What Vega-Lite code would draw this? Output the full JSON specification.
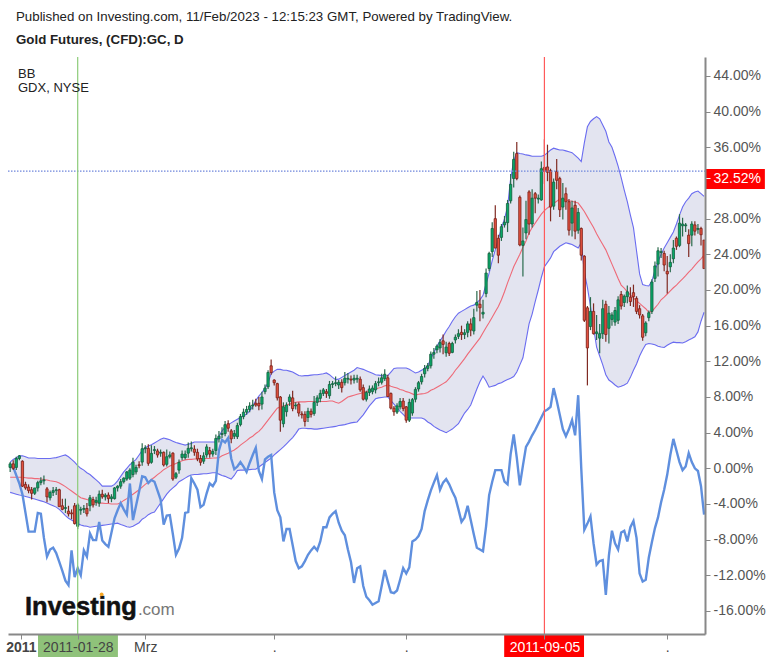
{
"$schema":"https://vega.github.io/schema/vega-lite/v6.json",
"width":697,"height":577,
"autosize":{"type":"none"},
"padding":{"left":8,"top":57,"right":71,"bottom":29},
"background":"#ffffff",
"view":{"stroke":null},
"title":{"text":"Published on Investing.com, 11/Feb/2023 - 12:15:23 GMT, Powered by TradingView.","subtitle":"Gold Futures, (CFD):GC, D","anchor":"start","frame":"group","dx":8,"offset":10,"font":"Liberation Sans","fontSize":13.3,"fontWeight":"normal","color":"#222222","subtitleFont":"Liberation Sans","subtitleFontSize":13.3,"subtitleFontWeight":"bold","subtitleColor":"#222222","subtitlePadding":10},
"data":{"values":[
{"i":1,"o":0.1,"h":0.7,"l":-0.4,"c":0.5,"u":0.7,"m":-1,"b":-2.7,"g":0.15},
{"i":2,"o":0.5,"h":0.9,"l":-0.2,"c":0,"u":1,"m":-1,"b":-2.8,"g":0.15},
{"i":3,"o":0.1,"h":1.3,"l":-0.2,"c":1.1,"u":1.2,"m":-1,"b":-2.9,"g":-0.8},
{"i":4,"o":1.1,"h":1.5,"l":0.9,"c":1.4,"u":1.4,"m":-1,"b":-3,"g":-1.7},
{"i":5,"o":0.8,"h":0.9,"l":-2.1,"c":-2,"u":1.4,"m":-1,"b":-3.05,"g":-2.9},
{"i":6,"o":-1.8,"h":-1.5,"l":-2.4,"c":-2.2,"u":1.3,"m":-1.05,"b":-3.15,"g":-5},
{"i":7,"o":-2.1,"h":-1.8,"l":-2.8,"c":-2.5,"u":1.15,"m":-1.1,"b":-3.25,"g":-7.1},
{"i":8,"o":-2.4,"h":-2.1,"l":-3.5,"c":-2.8,"u":1.15,"m":-1.1,"b":-3.35,"g":-7.1},
{"i":9,"o":-2.8,"h":-2.2,"l":-3,"c":-2.2,"u":1.15,"m":-1.15,"b":-3.45,"g":-7.1},
{"i":10,"o":-2.2,"h":-1.4,"l":-2.6,"c":-1.6,"u":1.1,"m":-1.15,"b":-3.55,"g":-5},
{"i":11,"o":-1.6,"h":-1,"l":-1.9,"c":-1.4,"u":1.1,"m":-1.2,"b":-3.65,"g":-5.1},
{"i":12,"o":-1.4,"h":-0.8,"l":-1.8,"c":-1.3,"u":1.1,"m":-1.25,"b":-3.75,"g":-7.8},
{"i":13,"o":-2.3,"h":-2.1,"l":-3.8,"c":-3.2,"u":1.1,"m":-1.3,"b":-3.9,"g":-9.9},
{"i":14,"o":-3.3,"h":-2.5,"l":-3.6,"c":-2.7,"u":1.1,"m":-1.4,"b":-4.05,"g":-9.1},
{"i":15,"o":-2.7,"h":-2.1,"l":-3.1,"c":-2.5,"u":1.15,"m":-1.45,"b":-4.2,"g":-8.9},
{"i":16,"o":-2.5,"h":-2.1,"l":-3,"c":-2.4,"u":1.2,"m":-1.5,"b":-4.35,"g":-9.5},
{"i":17,"o":-2.4,"h":-2.3,"l":-4.3,"c":-4.3,"u":1.3,"m":-1.65,"b":-4.6,"g":-10.5},
{"i":18,"o":-4.2,"h":-3.4,"l":-4.7,"c":-4.6,"u":1.4,"m":-1.85,"b":-4.95,"g":-11.5},
{"i":19,"o":-4.5,"h":-3.4,"l":-5,"c":-4.4,"u":1.5,"m":-2.05,"b":-5.3,"g":-12.6},
{"i":20,"o":-4.8,"h":-4.2,"l":-5.4,"c":-5.1,"u":1.3,"m":-2.3,"b":-5.6,"g":-13.1},
{"i":21,"o":-5,"h":-4.6,"l":-5.7,"c":-5.1,"u":1,"m":-2.55,"b":-5.8,"g":-9.2},
{"i":22,"o":-4.2,"h":-3.9,"l":-6.3,"c":-6.2,"u":0.7,"m":-2.8,"b":-6,"g":-12.2},
{"i":23,"o":-6.5,"h":-3.9,"l":-6.8,"c":-4.1,"u":0.3,"m":-3.05,"b":-6.2,"g":-11.2},
{"i":24,"o":-4.7,"h":-4.3,"l":-5.2,"c":-4.6,"u":0,"m":-3.3,"b":-6.35,"g":-12},
{"i":25,"o":-4.6,"h":-4.1,"l":-5,"c":-4.5,"u":-0.2,"m":-3.4,"b":-6.45,"g":-9.2},
{"i":26,"o":-4.5,"h":-3.9,"l":-5.4,"c":-5.1,"u":-0.5,"m":-3.5,"b":-6.5,"g":-9.9},
{"i":27,"o":-4.2,"h":-3,"l":-4.8,"c":-3.3,"u":-0.7,"m":-3.6,"b":-6.6,"g":-7.3},
{"i":28,"o":-3.5,"h":-3.2,"l":-4.4,"c":-4.1,"u":-1,"m":-3.7,"b":-6.55,"g":-8.05},
{"i":29,"o":-3.8,"h":-3.2,"l":-4.2,"c":-3.6,"u":-1.3,"m":-3.85,"b":-6.5,"g":-8.05},
{"i":30,"o":-3.9,"h":-2.5,"l":-4.3,"c":-2.9,"u":-1.6,"m":-3.9,"b":-6.45,"g":-6},
{"i":31,"o":-2.9,"h":-2.4,"l":-3.4,"c":-3.2,"u":-2,"m":-3.9,"b":-6.4,"g":-8.1},
{"i":32,"o":-3.2,"h":-2.8,"l":-3.6,"c":-3,"u":-2,"m":-3.95,"b":-6.35,"g":-8.5},
{"i":33,"o":-3,"h":-2.7,"l":-3.9,"c":-3.4,"u":-2,"m":-3.95,"b":-6.3,"g":-8.8},
{"i":34,"o":-3.4,"h":-2.9,"l":-3.8,"c":-3.2,"u":-2,"m":-4,"b":-6.25,"g":-7.2},
{"i":35,"o":-3.4,"h":-2.1,"l":-3.5,"c":-2.2,"u":-1.8,"m":-4,"b":-6.2,"g":-5.6},
{"i":36,"o":-2.2,"h":-1.9,"l":-2.6,"c":-2,"u":-1.4,"m":-4,"b":-6.15,"g":-4.7},
{"i":37,"o":-2,"h":-1.2,"l":-2.3,"c":-1.5,"u":-0.9,"m":-3.85,"b":-6.3,"g":-3.9},
{"i":38,"o":-1.5,"h":-1,"l":-1.7,"c":-1.1,"u":-0.4,"m":-3.6,"b":-6.4,"g":-4.6},
{"i":39,"o":-1.2,"h":-0.3,"l":-1.4,"c":-0.4,"u":0,"m":-3.4,"b":-6.55,"g":-5.2},
{"i":40,"o":-1.1,"h":0,"l":-1.3,"c":-0.2,"u":0.4,"m":-3.15,"b":-6.6,"g":-1.7},
{"i":41,"o":-0.7,"h":1.2,"l":-1,"c":0.7,"u":0.7,"m":-2.9,"b":-6.5,"g":-5.8},
{"i":42,"o":-0.4,"h":0.4,"l":-0.7,"c":0.1,"u":1,"m":-2.65,"b":-6.3,"g":-4.2},
{"i":43,"o":0.4,"h":0.8,"l":0,"c":0.3,"u":1.5,"m":-2.4,"b":-6.1,"g":-2.6},
{"i":44,"o":0.7,"h":2.8,"l":0.3,"c":2.2,"u":2,"m":-2.1,"b":-5.7,"g":-0.9},
{"i":45,"o":2.2,"h":2.6,"l":1.7,"c":2.3,"u":2.3,"m":-1.8,"b":-5.5,"g":-1},
{"i":46,"o":2.24,"h":2.7,"l":0.3,"c":0.56,"u":2.5,"m":-1.55,"b":-5.2,"g":-1.65},
{"i":47,"o":0.67,"h":2.6,"l":0.5,"c":1.68,"u":2.65,"m":-1.25,"b":-5,"g":-1.3},
{"i":48,"o":2,"h":2.5,"l":1.6,"c":2.1,"u":2.85,"m":-1,"b":-4.9,"g":-1.5},
{"i":49,"o":1.95,"h":2.2,"l":1.2,"c":1.5,"u":3.05,"m":-0.7,"b":-4.4,"g":-2.5},
{"i":50,"o":1.7,"h":2.1,"l":1.3,"c":1.8,"u":3.25,"m":-0.45,"b":-3.9,"g":-3.5},
{"i":51,"o":1.8,"h":1.9,"l":0.2,"c":0.37,"u":3.4,"m":-0.15,"b":-3.4,"g":-6.3},
{"i":52,"o":0.45,"h":2.1,"l":0.2,"c":1.3,"u":3.3,"m":0.05,"b":-2.9,"g":-5.3},
{"i":53,"o":1.3,"h":1.9,"l":1.1,"c":1.5,"u":3.2,"m":0.25,"b":-2.5,"g":-5.25},
{"i":54,"o":1.7,"h":1.8,"l":-1.4,"c":-1.2,"u":3.05,"m":0.4,"b":-2.2,"g":-7.4},
{"i":55,"o":-1,"h":-0.4,"l":-1.2,"c":-0.6,"u":2.9,"m":0.55,"b":-1.9,"g":-9.7},
{"i":56,"o":-0.2,"h":1,"l":-0.6,"c":0.67,"u":2.8,"m":0.7,"b":-1.5,"g":-9},
{"i":57,"o":1.2,"h":2,"l":0.9,"c":1.6,"u":2.7,"m":0.85,"b":-1.3,"g":-7.8},
{"i":58,"o":1.2,"h":2,"l":1,"c":1.6,"u":2.6,"m":0.95,"b":-1.1,"g":-5},
{"i":59,"o":1.7,"h":2.9,"l":1.2,"c":2.24,"u":2.7,"m":1,"b":-0.9,"g":-4.9},
{"i":60,"o":2.2,"h":3,"l":1.9,"c":2.3,"u":2.8,"m":1,"b":-0.75,"g":-1.1},
{"i":61,"o":2.15,"h":2.6,"l":1.4,"c":1.8,"u":2.95,"m":1.05,"b":-0.7,"g":-1.7},
{"i":62,"o":1.8,"h":2.2,"l":0.8,"c":1.05,"u":2.95,"m":1.05,"b":-0.7,"g":-2.4},
{"i":63,"o":1.1,"h":1.5,"l":0.3,"c":0.67,"u":2.95,"m":1.1,"b":-0.65,"g":-4.35},
{"i":64,"o":0.8,"h":1.8,"l":0.5,"c":1.4,"u":2.95,"m":1.1,"b":-0.6,"g":-4.1},
{"i":65,"o":1.5,"h":2.7,"l":1.2,"c":2.4,"u":2.95,"m":1.1,"b":-0.6,"g":-2.8},
{"i":66,"o":2,"h":2.4,"l":1.2,"c":1.6,"u":2.95,"m":1.1,"b":-0.55,"g":-1.7},
{"i":67,"o":1.6,"h":2.2,"l":1.3,"c":1.9,"u":2.95,"m":1.15,"b":-0.5,"g":-2},
{"i":68,"o":2,"h":3.8,"l":1.5,"c":3.35,"u":2.95,"m":1.15,"b":-0.5,"g":-1.4},
{"i":69,"o":3.3,"h":4.2,"l":2.9,"c":3.6,"u":3.6,"m":1.2,"b":-0.65,"g":2},
{"i":70,"o":3.8,"h":4.6,"l":3.4,"c":3.9,"u":4.2,"m":1.4,"b":-0.8,"g":3.2},
{"i":71,"o":3.9,"h":5.3,"l":3.6,"c":4.9,"u":4.6,"m":1.55,"b":-0.9,"g":2.9},
{"i":72,"o":5,"h":5.4,"l":4.1,"c":4.5,"u":4.9,"m":1.7,"b":-1.05,"g":3.4},
{"i":73,"o":4.2,"h":4.4,"l":2.8,"c":3.3,"u":5.1,"m":1.9,"b":-1.2,"g":1.1},
{"i":74,"o":3.6,"h":4.3,"l":3.3,"c":3.9,"u":5.3,"m":2.05,"b":-0.8,"g":-0.1},
{"i":75,"o":3.55,"h":5.1,"l":3.3,"c":4.8,"u":5.5,"m":2.3,"b":-0.25,"g":0.2},
{"i":76,"o":4.9,"h":6.1,"l":4.7,"c":5.8,"u":5.7,"m":2.6,"b":-0.2,"g":0.7},
{"i":77,"o":5.8,"h":6.7,"l":5.5,"c":6.3,"u":5.9,"m":2.85,"b":-0.2,"g":0.2},
{"i":78,"o":6.3,"h":7,"l":6,"c":6.6,"u":6.1,"m":3.1,"b":-0.15,"g":-0.4},
{"i":79,"o":6.6,"h":7.4,"l":6.3,"c":7,"u":6.4,"m":3.4,"b":-0.15,"g":0.6},
{"i":80,"o":7,"h":7.7,"l":6.6,"c":7.1,"u":7,"m":3.6,"b":-0.1,"g":1.5},
{"i":81,"o":7.3,"h":7.8,"l":6.9,"c":7.1,"u":7.6,"m":3.9,"b":-0.1,"g":2.3},
{"i":82,"o":7.3,"h":8,"l":6.5,"c":7,"u":8.1,"m":4.15,"b":0.15,"g":-0.3},
{"i":83,"o":7.2,"h":8.6,"l":6.6,"c":8,"u":8.5,"m":4.5,"b":0.4,"g":-1.2},
{"i":84,"o":8.6,"h":9.4,"l":8.3,"c":9,"u":9,"m":4.95,"b":0.65,"g":1},
{"i":85,"o":9.15,"h":11,"l":8.9,"c":10.75,"u":9.6,"m":5.4,"b":0.9,"g":1.3},
{"i":86,"o":11.5,"h":12.2,"l":10.5,"c":10.75,"u":10.6,"m":5.85,"b":1.15,"g":1.5},
{"i":87,"o":9.9,"h":10,"l":9.3,"c":9.6,"u":10.9,"m":6.3,"b":1.5,"g":-2.7},
{"i":88,"o":9.5,"h":9.6,"l":7.6,"c":7.9,"u":11.1,"m":6.75,"b":1.8,"g":-4.7},
{"i":89,"o":8,"h":8.1,"l":4.1,"c":5.4,"u":11.1,"m":6.9,"b":2.1,"g":-5.5},
{"i":90,"o":5,"h":7.4,"l":4.6,"c":6.9,"u":11,"m":7,"b":2.4,"g":-8.2},
{"i":91,"o":6.35,"h":7.4,"l":5.8,"c":7.1,"u":11,"m":7.1,"b":2.75,"g":-6.8},
{"i":92,"o":7.5,"h":8.3,"l":7,"c":8,"u":10.9,"m":7.2,"b":3.1,"g":-6.8},
{"i":93,"o":7.9,"h":8.7,"l":6.4,"c":6.7,"u":10.8,"m":7.3,"b":3.45,"g":-8.6},
{"i":94,"o":7,"h":7.4,"l":6.6,"c":7.1,"u":10.6,"m":7.4,"b":3.9,"g":-10.4},
{"i":95,"o":7.2,"h":7.4,"l":5.8,"c":6.2,"u":10.4,"m":7.45,"b":4.4,"g":-11.2},
{"i":96,"o":6.1,"h":6.4,"l":5.6,"c":6,"u":10.35,"m":7.45,"b":4.5,"g":-11},
{"i":97,"o":6.05,"h":6.4,"l":4.7,"c":5.25,"u":10.4,"m":7.45,"b":4.5,"g":-10.4},
{"i":98,"o":5.7,"h":6.8,"l":5.2,"c":6.4,"u":10.4,"m":7.5,"b":4.45,"g":-9.7},
{"i":99,"o":6.4,"h":6.7,"l":5.7,"c":6.05,"u":10.45,"m":7.5,"b":4.45,"g":-9.2},
{"i":100,"o":6.15,"h":8.1,"l":5.9,"c":7.4,"u":10.5,"m":7.5,"b":4.4,"g":-8.8},
{"i":101,"o":7.4,"h":8.2,"l":7,"c":7.9,"u":10.5,"m":7.5,"b":4.4,"g":-9.2},
{"i":102,"o":7.85,"h":8.8,"l":7.4,"c":8.4,"u":10.55,"m":7.5,"b":4.45,"g":-8.2},
{"i":103,"o":8.4,"h":9,"l":8.1,"c":8.8,"u":10.6,"m":7.5,"b":4.5,"g":-6.6},
{"i":104,"o":8.6,"h":8.9,"l":7.9,"c":8.4,"u":10.7,"m":7.5,"b":4.55,"g":-6.6},
{"i":105,"o":8.15,"h":9.8,"l":7.8,"c":9.4,"u":10.5,"m":7.55,"b":4.6,"g":-5.5},
{"i":106,"o":9.4,"h":9.8,"l":9,"c":9.5,"u":10.2,"m":7.55,"b":4.65,"g":-5.1},
{"i":107,"o":9.5,"h":10.3,"l":9.2,"c":9.6,"u":9.95,"m":7.4,"b":4.7,"g":-4.8},
{"i":108,"o":9.35,"h":9.9,"l":8.9,"c":9.65,"u":10,"m":7.3,"b":4.8,"g":-6.1},
{"i":109,"o":9.65,"h":10,"l":8.5,"c":9.05,"u":10.2,"m":7.5,"b":4.85,"g":-7},
{"i":110,"o":9.6,"h":10.8,"l":9.3,"c":10.1,"u":10.4,"m":7.75,"b":4.9,"g":-7.5},
{"i":111,"o":10,"h":10.7,"l":9.5,"c":10.1,"u":10.6,"m":8,"b":5,"g":-9.1},
{"i":112,"o":10,"h":10.4,"l":9.4,"c":9.9,"u":10.8,"m":8.1,"b":5.1,"g":-10.5},
{"i":113,"o":9.9,"h":10.5,"l":9.5,"c":10.1,"u":11,"m":8.2,"b":5.15,"g":-12.85},
{"i":114,"o":10,"h":10.5,"l":9.6,"c":10.1,"u":11.3,"m":8.3,"b":5.2,"g":-11.2},
{"i":115,"o":10,"h":10.3,"l":8.6,"c":8.8,"u":11.2,"m":8.4,"b":5.6,"g":-11},
{"i":116,"o":9.05,"h":9.4,"l":7.6,"c":7.75,"u":11.1,"m":8.5,"b":6,"g":-13.2},
{"i":117,"o":7.75,"h":8.7,"l":7.5,"c":8.5,"u":10.95,"m":8.6,"b":6.5,"g":-14.4},
{"i":118,"o":8.5,"h":9.3,"l":8.1,"c":8.9,"u":10.8,"m":8.7,"b":7,"g":-14.8},
{"i":119,"o":8.6,"h":9.3,"l":8.3,"c":9,"u":10.65,"m":8.8,"b":7.4,"g":-15.3},
{"i":120,"o":8.8,"h":9.8,"l":8.4,"c":9.5,"u":10.5,"m":8.9,"b":7.8,"g":-15.1},
{"i":121,"o":9.6,"h":10.2,"l":9.2,"c":9.7,"u":10.45,"m":9,"b":7.9,"g":-14.9},
{"i":122,"o":9.65,"h":10.6,"l":9.4,"c":10.15,"u":10.4,"m":9.1,"b":7.95,"g":-13.2},
{"i":123,"o":10.05,"h":11.1,"l":9.8,"c":10.55,"u":10.35,"m":9.25,"b":8,"g":-11.4},
{"i":124,"o":10.15,"h":10.5,"l":8,"c":8.05,"u":10.4,"m":9.35,"b":8,"g":-12.7},
{"i":125,"o":8.4,"h":8.5,"l":6.6,"c":6.75,"u":10.8,"m":9.2,"b":7.6,"g":-13.9},
{"i":126,"o":6.75,"h":7,"l":5.9,"c":6.35,"u":11.2,"m":9.1,"b":7.2,"g":-14},
{"i":127,"o":6.3,"h":7.3,"l":6.1,"c":7,"u":11.25,"m":9,"b":6.8,"g":-13.7},
{"i":128,"o":6.9,"h":7.9,"l":6.6,"c":7.5,"u":11.25,"m":8.85,"b":6.4,"g":-12.5},
{"i":129,"o":7.55,"h":7.9,"l":6.4,"c":6.7,"u":11.25,"m":8.75,"b":6.05,"g":-11.2},
{"i":130,"o":6.9,"h":7,"l":5.1,"c":5.4,"u":11.25,"m":8.6,"b":5.7,"g":-11.8},
{"i":131,"o":5.4,"h":7.8,"l":5.2,"c":7.4,"u":11.1,"m":8.5,"b":5.65,"g":-11.1},
{"i":132,"o":6.2,"h":7.9,"l":5.9,"c":7.7,"u":10.9,"m":8.35,"b":5.65,"g":-8.2},
{"i":133,"o":7.75,"h":9.1,"l":7.4,"c":8.85,"u":10.7,"m":8.2,"b":5.65,"g":-8},
{"i":134,"o":8.9,"h":9.8,"l":8.6,"c":9.6,"u":10.8,"m":8.3,"b":5.65,"g":-7.6},
{"i":135,"o":9.7,"h":10.6,"l":9.4,"c":10.3,"u":11,"m":8.35,"b":5.65,"g":-6.8},
{"i":136,"o":10.6,"h":11.6,"l":10.2,"c":11.2,"u":11.2,"m":8.4,"b":5.5,"g":-4.8},
{"i":137,"o":11.2,"h":11.8,"l":10.9,"c":11.5,"u":11.5,"m":8.5,"b":5.2,"g":-3.6},
{"i":138,"o":11.5,"h":13.1,"l":11.2,"c":12.8,"u":12.3,"m":8.75,"b":5,"g":-2.5},
{"i":139,"o":12.8,"h":13.5,"l":12.3,"c":13,"u":13,"m":8.9,"b":4.7,"g":-1.6},
{"i":140,"o":13.3,"h":13.9,"l":12.9,"c":13.7,"u":13.7,"m":9.1,"b":4.5,"g":-0.75},
{"i":141,"o":13.5,"h":14.5,"l":13,"c":14.1,"u":14.3,"m":9.3,"b":4.3,"g":-2.4},
{"i":142,"o":14.3,"h":15,"l":12.8,"c":13.9,"u":14.8,"m":9.5,"b":4.15,"g":-1.6},
{"i":143,"o":12.96,"h":14.2,"l":12.5,"c":13.6,"u":15.4,"m":9.7,"b":4,"g":-1.2},
{"i":144,"o":14,"h":14.2,"l":12.6,"c":12.9,"u":15.9,"m":10.1,"b":4.2,"g":-1.8},
{"i":145,"o":13,"h":14.2,"l":12.9,"c":14,"u":16.5,"m":10.5,"b":4.4,"g":-2.6},
{"i":146,"o":14.4,"h":15,"l":14,"c":14.7,"u":17,"m":11,"b":4.7,"g":-3.3},
{"i":147,"o":14.8,"h":15.6,"l":14.5,"c":15.1,"u":17.4,"m":11.4,"b":5,"g":-4.6},
{"i":148,"o":15.25,"h":16,"l":14.4,"c":15,"u":17.6,"m":11.85,"b":5.6,"g":-6},
{"i":149,"o":15,"h":15.6,"l":14.5,"c":15.2,"u":17.8,"m":12.3,"b":6.2,"g":-5.5},
{"i":150,"o":15.25,"h":16.5,"l":14.7,"c":16.2,"u":18,"m":12.8,"b":6.6,"g":-4.2},
{"i":151,"o":16.2,"h":16.8,"l":14.8,"c":15.5,"u":18.2,"m":13.25,"b":7.1,"g":-5.8},
{"i":152,"o":15.4,"h":17.9,"l":15,"c":16.9,"u":18.3,"m":13.7,"b":8,"g":-7.4},
{"i":153,"o":18.3,"h":19.9,"l":17.6,"c":18.6,"u":18.6,"m":14.15,"b":8.9,"g":-8.9},
{"i":154,"o":18.4,"h":20,"l":16.5,"c":18,"u":18.9,"m":14.6,"b":9.7,"g":-9.1},
{"i":155,"o":17.3,"h":18.9,"l":16.8,"c":17.5,"u":19.4,"m":15.2,"b":10.35,"g":-9.3},
{"i":156,"o":19.6,"h":22.4,"l":19.2,"c":21.9,"u":20.7,"m":15.8,"b":9.8,"g":-6.5},
{"i":157,"o":22.4,"h":24.3,"l":22.1,"c":24.1,"u":21.9,"m":16.35,"b":9.1,"g":-3},
{"i":158,"o":24.3,"h":27.6,"l":23.7,"c":26.9,"u":23.3,"m":16.95,"b":9.2,"g":-1.5},
{"i":159,"o":28,"h":29.5,"l":24.7,"c":24.7,"u":24.5,"m":17.55,"b":9.3,"g":-0.2},
{"i":160,"o":25.8,"h":26.2,"l":23,"c":23.9,"u":25.7,"m":18.15,"b":9.5,"g":-0.2},
{"i":161,"o":25.9,"h":27.4,"l":25.5,"c":27.1,"u":26.9,"m":18.9,"b":9.6,"g":-0.2},
{"i":162,"o":27.3,"h":28.3,"l":27,"c":27.6,"u":28,"m":19.8,"b":9.8,"g":-1.5},
{"i":163,"o":27.55,"h":30.1,"l":26.5,"c":29.7,"u":29.3,"m":20.8,"b":9.95,"g":-1.8},
{"i":164,"o":30,"h":33,"l":29.7,"c":31.85,"u":32.5,"m":21.7,"b":10.1,"g":1.6},
{"i":165,"o":32.5,"h":35.5,"l":31.5,"c":34.65,"u":34.5,"m":22.6,"b":10.3,"g":3.8},
{"i":166,"o":35.3,"h":36.6,"l":32.3,"c":32.5,"u":35.4,"m":23.3,"b":10.8,"g":1.2},
{"i":167,"o":30.4,"h":30.6,"l":24.9,"c":25.05,"u":35.3,"m":24,"b":11.6,"g":-1.9},
{"i":168,"o":25,"h":27,"l":21.5,"c":25.5,"u":35.25,"m":24.8,"b":12.4,"g":0.3},
{"i":169,"o":26.4,"h":30,"l":25.7,"c":27.9,"u":35.15,"m":25.5,"b":14.3,"g":2.4},
{"i":170,"o":31,"h":31.2,"l":26.2,"c":27.4,"u":35.1,"m":26.4,"b":16.2,"g":3},
{"i":171,"o":27.4,"h":31.3,"l":27,"c":30.3,"u":35,"m":27,"b":17.3,"g":3.7},
{"i":172,"o":30.8,"h":31,"l":28.6,"c":30.3,"u":35,"m":27.5,"b":18.7,"g":4.3},
{"i":173,"o":30.2,"h":30.7,"l":29.7,"c":30.3,"u":35,"m":28,"b":20,"g":5},
{"i":174,"o":30.1,"h":34.4,"l":30,"c":33.6,"u":35,"m":28.5,"b":21.4,"g":5.7},
{"i":175,"o":33.75,"h":36.9,"l":31.9,"c":33.3,"u":35.1,"m":28.9,"b":22.6,"g":6.4},
{"i":176,"o":33.8,"h":36.3,"l":32.2,"c":33.2,"u":35.4,"m":29.2,"b":23.1,"g":6.6},
{"i":177,"o":33.4,"h":33.6,"l":27.7,"c":29.3,"u":35.7,"m":29.45,"b":23.6,"g":6.9},
{"i":178,"o":29.4,"h":32.5,"l":29,"c":32.1,"u":35.9,"m":29.7,"b":24.3,"g":9},
{"i":179,"o":33.3,"h":34.7,"l":31.3,"c":32.3,"u":35.8,"m":29.95,"b":24.6,"g":7.6},
{"i":180,"o":32.5,"h":32.7,"l":28.2,"c":29,"u":35.7,"m":30.2,"b":24.9,"g":6},
{"i":181,"o":29.3,"h":32,"l":27.9,"c":30.3,"u":35.7,"m":30.15,"b":25.1,"g":4.4},
{"i":182,"o":30.8,"h":31.5,"l":29,"c":29.9,"u":35.6,"m":30.1,"b":25.3,"g":3.6},
{"i":183,"o":29.9,"h":30.2,"l":26.1,"c":26.7,"u":35.5,"m":30,"b":25.2,"g":4.4},
{"i":184,"o":27.5,"h":30,"l":26,"c":29.2,"u":35.4,"m":29.95,"b":25.1,"g":5.4},
{"i":185,"o":29.5,"h":30,"l":25.7,"c":26.6,"u":35.1,"m":29.85,"b":24.9,"g":3.7},
{"i":186,"o":26.7,"h":29.2,"l":26.3,"c":28.7,"u":34.8,"m":29.75,"b":24.7,"g":8.2},
{"i":187,"o":26.9,"h":27,"l":23.3,"c":23.9,"u":34.4,"m":29.3,"b":25.3,"g":0},
{"i":188,"o":23.8,"h":23.9,"l":16.4,"c":16.6,"u":36.5,"m":28.8,"b":22,"g":-6.9},
{"i":189,"o":18,"h":18.2,"l":9.3,"c":13.5,"u":38.3,"m":28.2,"b":20.3,"g":-6.2},
{"i":190,"o":15.9,"h":19.2,"l":15.5,"c":17.6,"u":38.9,"m":27.6,"b":18.2,"g":-5.4},
{"i":191,"o":17.6,"h":18.5,"l":15,"c":15.1,"u":39.2,"m":27,"b":15.8,"g":-8.4},
{"i":192,"o":15.1,"h":17.2,"l":14.4,"c":15.3,"u":39.45,"m":26.3,"b":13.6,"g":-10.8},
{"i":193,"o":14.6,"h":16.2,"l":12.9,"c":15.1,"u":39.2,"m":25.7,"b":12.6,"g":-10.4},
{"i":194,"o":15.1,"h":18.9,"l":14.5,"c":17.9,"u":38.5,"m":25.1,"b":11.6,"g":-10.3},
{"i":195,"o":18.4,"h":18.8,"l":14.2,"c":15,"u":37.8,"m":24.5,"b":10.5,"g":-14.2},
{"i":196,"o":15.7,"h":18.2,"l":14,"c":17.4,"u":36.6,"m":23.7,"b":9.9,"g":-9.8},
{"i":197,"o":16.7,"h":17.5,"l":16,"c":17.2,"u":36,"m":22.9,"b":9.65,"g":-7},
{"i":198,"o":16.4,"h":18.1,"l":16,"c":17.7,"u":35,"m":22.1,"b":9.35,"g":-8.4},
{"i":199,"o":16.6,"h":19.3,"l":16.2,"c":18.9,"u":33.9,"m":21.3,"b":9.1,"g":-9.1},
{"i":200,"o":19.5,"h":19.9,"l":17.8,"c":18.2,"u":32.6,"m":20.55,"b":9.2,"g":-7.2},
{"i":201,"o":18.6,"h":19.5,"l":18.1,"c":19.3,"u":31.2,"m":20.2,"b":9.35,"g":-7},
{"i":202,"o":19.25,"h":20.5,"l":18.5,"c":19.8,"u":29.9,"m":19.8,"b":9.55,"g":-8.2},
{"i":203,"o":19.2,"h":20.3,"l":18.2,"c":18.7,"u":28.4,"m":19.45,"b":10.2,"g":-6.6},
{"i":204,"o":19.7,"h":20.6,"l":18.1,"c":19.25,"u":27,"m":19.1,"b":11,"g":-5.9},
{"i":205,"o":19.06,"h":19.3,"l":17.3,"c":17.6,"u":24.4,"m":18.8,"b":11.7,"g":-7.8},
{"i":206,"o":17.9,"h":18.3,"l":16.8,"c":17.2,"u":21.8,"m":18.5,"b":12.6,"g":-11.8},
{"i":207,"o":17.1,"h":17.3,"l":14.3,"c":14.7,"u":20.6,"m":18.2,"b":13.3,"g":-12.7},
{"i":208,"o":15.2,"h":16.5,"l":14.8,"c":16.3,"u":20.5,"m":17.9,"b":13.9,"g":-12.5},
{"i":209,"o":16.9,"h":17.7,"l":16.5,"c":17.45,"u":20.45,"m":17.5,"b":14,"g":-10},
{"i":210,"o":17.6,"h":21.2,"l":17.3,"c":20.9,"u":21,"m":17.6,"b":13.95,"g":-8.3},
{"i":211,"o":21.3,"h":23.2,"l":20.9,"c":22.7,"u":22.2,"m":18,"b":13.85,"g":-6.7},
{"i":212,"o":22.9,"h":24.8,"l":21.5,"c":24.4,"u":23.2,"m":18.4,"b":13.7,"g":-5.5},
{"i":213,"o":24.2,"h":24.7,"l":23.6,"c":24.3,"u":24,"m":18.9,"b":13.6,"g":-3.8},
{"i":214,"o":24.1,"h":24.4,"l":22.1,"c":22.8,"u":24.7,"m":19.2,"b":13.55,"g":-2.4},
{"i":215,"o":22.1,"h":23.8,"l":19.6,"c":21.8,"u":25.3,"m":19.55,"b":13.8,"g":-0.7},
{"i":216,"o":22.6,"h":24,"l":22,"c":23.1,"u":25.9,"m":19.9,"b":14,"g":1.5},
{"i":217,"o":23.5,"h":25.6,"l":23,"c":24.7,"u":26.5,"m":20.25,"b":14.15,"g":3.3},
{"i":218,"o":25.8,"h":26,"l":24.5,"c":24.9,"u":27.4,"m":20.55,"b":14.1,"g":2},
{"i":219,"o":25,"h":28.5,"l":24.8,"c":27.5,"u":28.4,"m":20.9,"b":14.1,"g":0.7},
{"i":220,"o":27.2,"h":28.1,"l":26,"c":27.4,"u":29.3,"m":21.25,"b":14.05,"g":-0.2},
{"i":221,"o":27.2,"h":27.5,"l":26.5,"c":27.3,"u":29.9,"m":21.6,"b":14.2,"g":0.2},
{"i":222,"o":26.15,"h":26.8,"l":23.7,"c":25.2,"u":30.3,"m":22,"b":14.4,"g":1.7},
{"i":223,"o":26.15,"h":27.7,"l":24.9,"c":27.4,"u":30.8,"m":22.35,"b":14.55,"g":0.7},
{"i":224,"o":27.3,"h":27.7,"l":26.1,"c":26.6,"u":31,"m":22.75,"b":14.75,"g":0},
{"i":225,"o":26.8,"h":27.4,"l":26.3,"c":26.9,"u":31.1,"m":23.15,"b":15.3,"g":-0.3},
{"i":226,"o":26.9,"h":27.1,"l":25,"c":26.2,"u":30.8,"m":23.5,"b":16.5,"g":-2},
{"i":227,"o":25.6,"h":25.6,"l":22.4,"c":22.4,"u":30.5,"m":23.9,"b":17.5,"g":-5.2}
]},
"encoding":{
 "x":{"field":"i","type":"quantitative","scale":{"domain":[0.3,227.3],"nice":false,"zero":false,"padding":0},
  "axis":{"title":null,"grid":false,"orient":"bottom","zindex":1,"values":[4.5,23,45,87,130,175,215],
   "labelExpr":"datum.value==4.5?'2011':datum.value==23?'2011-01-28':datum.value==45?'Mrz':datum.value==175?'2011-09-05':'.'",
   "labelFont":"Liberation Sans","labelFontSize":14,"labelPadding":1,"labelOverlap":false,"labelBound":false,"labelFlush":false,
   "labelColor":{"condition":{"test":"datum.value==175","value":"#ffffff"},"value":"#444444"},
   "labelFontWeight":{"condition":{"test":"datum.value==4.5","value":"bold"},"value":"normal"},
   "domainColor":"#888888","domainWidth":2,"tickColor":"#888888","tickSize":5}},
 "y":{"type":"quantitative","scale":{"domain":[-18.58,46.13],"nice":false,"zero":false,"padding":0},
  "axis":{"title":null,"grid":false,"orient":"right","zindex":1,"values":[-16,-12,-8,-4,0,4,8,12,16,20,24,28,32.52,36,40,44],
   "labelExpr":"replace(format(datum.value,'.2f'),'\u2212','-')+'%'",
   "labelFont":"Liberation Sans","labelFontSize":14,"labelPadding":3,"labelOverlap":false,"labelBound":false,
   "labelColor":{"condition":{"test":"datum.value==32.52","value":"#ffffff"},"value":"#555555"},
   "tickColor":{"condition":{"test":"datum.value==32.52","value":"#ffffff"},"value":"#888888"},
   "domainColor":"#888888","domainWidth":2,"tickSize":5}}},
"layer":[
{"mark":{"type":"area","color":"#e3e4f0"},
 "encoding":{"y":{"field":"u"},"y2":{"field":"b"}}},
{"mark":{"type":"line","color":"#6a6cf0","strokeWidth":1.1},"encoding":{"y":{"field":"u"}}},
{"mark":{"type":"line","color":"#6a6cf0","strokeWidth":1.1},"encoding":{"y":{"field":"b"}}},
{"mark":{"type":"line","color":"#ee6a78","strokeWidth":1.1},"encoding":{"y":{"field":"m"}}},
{"mark":{"type":"line","color":"#5f8fde","strokeWidth":2.4},"encoding":{"y":{"field":"g"}}},
{"mark":{"type":"rule","strokeWidth":1.2},
 "encoding":{"y":{"field":"h"},"y2":{"field":"l"},
  "color":{"condition":{"test":"datum.c>=datum.o","value":"#2a6a4d"},"value":"#7f2a22"}}},
{"mark":{"type":"bar","size":2.3,"strokeWidth":0.8},
 "encoding":{"y":{"field":"o"},"y2":{"field":"c"},
  "fill":{"condition":{"test":"datum.c>=datum.o","value":"#08a868"},"value":"#e2513f"},
  "stroke":{"condition":{"test":"datum.c>=datum.o","value":"#17603f"},"value":"#7a2018"}}},
{"data":{"values":[{"a":0.3,"a2":227.3,"t":33.34}]},"mark":{"type":"rule","color":"#6f86dc","strokeDash":[1.5,1.5],"strokeWidth":1.2},
 "encoding":{"x":{"field":"a"},"x2":{"field":"a2"},"y":{"field":"t"}}},
{"data":{"values":[{"a":23,"t":46.13,"t2":-18.58}]},"mark":{"type":"rule","color":"#8ccb78","strokeWidth":1.2},
 "encoding":{"x":{"field":"a"},"y":{"field":"t"},"y2":{"field":"t2"}}},
{"data":{"values":[{"a":175,"t":46.13,"t2":-18.58}]},"mark":{"type":"rule","color":"#ff5a5a","strokeWidth":1.2},
 "encoding":{"x":{"field":"a"},"y":{"field":"t"},"y2":{"field":"t2"}}},
{"data":{"values":[{"a":10.07,"a2":36.1,"t":-18.58,"t2":-21.15}]},"mark":{"type":"rect","color":"#8fc27a"},
 "encoding":{"x":{"field":"a"},"x2":{"field":"a2"},"y":{"field":"t"},"y2":{"field":"t2"}}},
{"data":{"values":[{"a":161.9,"a2":187.9,"t":-18.58,"t2":-21.15},{"a":227.3,"a2":246.8,"t":33.56,"t2":31.32}]},"mark":{"type":"rect","color":"#ff0000"},
 "encoding":{"x":{"field":"a"},"x2":{"field":"a2"},"y":{"field":"t"},"y2":{"field":"t2"}}},
{"data":{"values":[{"a":3.56,"t":43.77,"s":"BB"},{"a":3.56,"t":42.26,"s":"GDX, NYSE"}]},"mark":{"type":"text","align":"left","baseline":"alphabetic","font":"Liberation Sans","fontSize":13,"color":"#222222"},
 "encoding":{"x":{"field":"a"},"y":{"field":"t"},"text":{"field":"s"}}},
{"data":{"values":[{"a":5.84,"t":-16.45,"s":"Investing"}]},"mark":{"type":"text","align":"left","baseline":"alphabetic","font":"Liberation Sans","fontSize":25.5,"fontWeight":"bold","color":"#111111","stroke":"#111111","strokeWidth":0.5},
 "encoding":{"x":{"field":"a"},"y":{"field":"t"},"text":{"field":"s"}}},
{"data":{"values":[{"a":42.6,"t":-16.45,"s":".com"}]},"mark":{"type":"text","align":"left","baseline":"alphabetic","font":"Liberation Sans","fontSize":17,"color":"#777777"},
 "encoding":{"x":{"field":"a"},"y":{"field":"t"},"text":{"field":"s"}}},
{"data":{"values":[{"a":30.8,"t":-14.13}]},"mark":{"type":"point","filled":true,"size":14,"color":"#f5a623","opacity":1},
 "encoding":{"x":{"field":"a"},"y":{"field":"t"}}}
]
}
